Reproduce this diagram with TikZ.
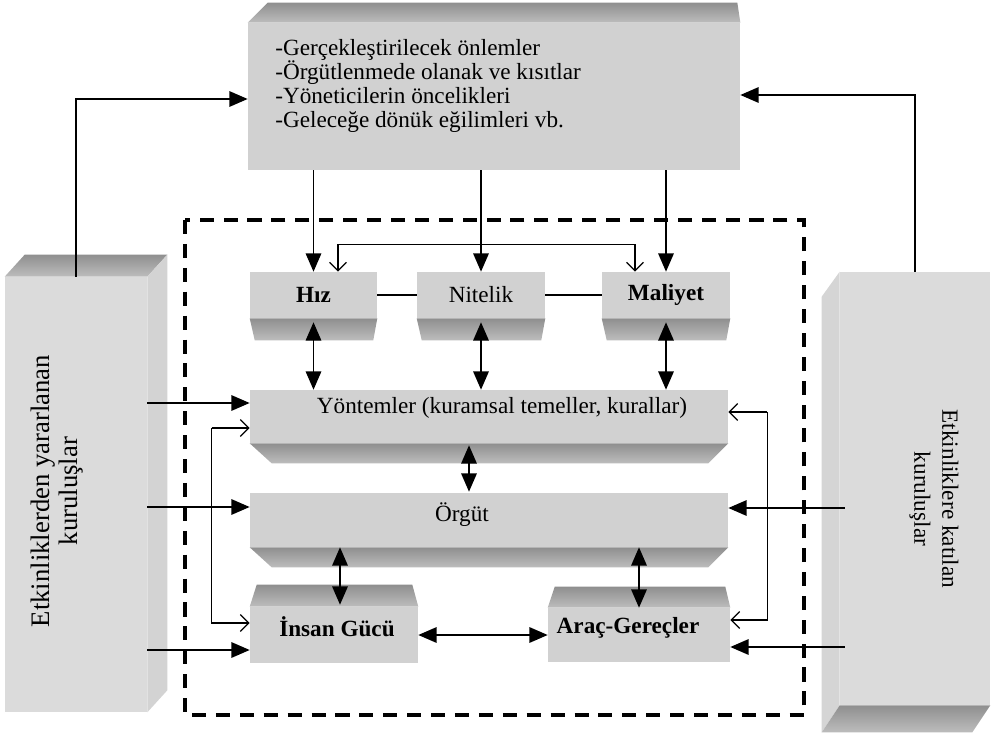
\documentclass[tikz,border=0pt]{standalone}
\usepackage{fontspec}
\setmainfont{Liberation Serif}
\usetikzlibrary{arrows.meta,calc}
\definecolor{FaceClr}{gray}{0.82}
\definecolor{SideClr}{gray}{0.86}
\definecolor{DarkClr}{gray}{0.56}
\definecolor{MidClr}{gray}{0.74}

\begin{document}
\begin{tikzpicture}[x=0.025cm,y=-0.025cm,
  face/.style={fill=FaceClr,inner sep=0pt,font=\fontsize{16.5}{17}\selectfont},
  bold/.style={font=\fontsize{16.5}{17}\selectfont\bfseries},
  bevel/.style={top color=DarkClr,bottom color=MidClr},
  arr/.style={line width=1.1pt,-{Triangle[length=13pt,width=11pt]}},
  dbl/.style={line width=1.1pt,{Triangle[length=13pt,width=11pt]}-{Triangle[length=13pt,width=11pt]}},
  opn/.style={line width=0.9pt,-{Straight Barb[length=6pt,width=12pt]}},
  opndbl/.style={line width=0.9pt,{Straight Barb[length=6pt,width=12pt]}-{Straight Barb[length=6pt,width=12pt]}},
  frame/.style={line width=2.2pt,dash pattern=on 10pt off 7pt}]
\useasboundingbox (0,0) rectangle (992,734);

% big boxes
\node[face,minimum width=12.3cm,minimum height=3.675cm] (top) at (494,96.5) {};
\node[face,fill=SideClr,minimum width=3.55cm,minimum height=10.875cm] (sol) at (76,494.5) {};
\node[face,fill=SideClr,minimum width=3.75cm,minimum height=10.825cm] (sag) at (915,488.5) {};

\shade[bevel] (top.north west) -- (top.north east) -- ++(-3,-20) -- ($(top.north west)+(20,-20)$) -- cycle;
\shade[bevel] (sol.north west) -- (sol.north east) -- ++(20,-22) -- ($(sol.north west)+(20,-22)$) -- cycle;
\fill[SideClr!96!black] (sol.north east) -- ++(20,-22) -- ($(sol.south east)+(20,-22)$) -- (sol.south east) -- cycle;
\fill[SideClr!97!black] (sag.north west) -- ++(-18,25) -- ($(sag.south west)+(-18,27)$) -- (sag.south west) -- cycle;
\shade[bevel] (sag.south west) -- (sag.south east) -- ++(-18,27) -- ($(sag.south west)+(-18,27)$) -- cycle;

\node[face,fill=none,anchor=west,align=left] (topText) at (275,86)
  {-Gerçekleştirilecek önlemler\\-Örgütlenmede olanak ve kısıtlar\\-Yöneticilerin öncelikleri\\-Geleceğe dönük eğilimleri vb.};
\node[rotate=90,align=center,font=\fontsize{19}{19.5}\selectfont] (solText) at (57,491)
  {Etkinliklerden yararlanan\\kuruluşlar};
\node[rotate=-90,align=center,font=\fontsize{16.5}{20}\selectfont] (sagText) at (934,499)
  {Etkinliklere katılan\\kuruluşlar};

% inner boxes
\node[face,bold,minimum width=3.175cm,minimum height=1.15cm] (hiz) at (313.5,295) {Hız};
\node[face,minimum width=3.2cm,minimum height=1.15cm] (nitelik) at (481,295) {Nitelik};
\node[face,bold,minimum width=3.2cm,minimum height=1.15cm] (maliyet) at (666,295) {Maliyet};
\foreach \b in {hiz,nitelik,maliyet}
  \shade[bevel] (\b.south west) -- (\b.south east) -- ++(-4,22) -- ($(\b.south west)+(5,22)$) -- cycle;

\node[face,minimum width=11.95cm,minimum height=1.325cm,
  label={[face,fill=none,xshift=0.325cm,yshift=0.21cm]center:Yöntemler (kuramsal temeller, kurallar)}] (yontem) at (489,416.5) {};
\node[face,minimum width=11.95cm,minimum height=1.35cm,
  label={[face,fill=none,xshift=-0.675cm,yshift=0.125cm]center:Örgüt}] (orgut) at (489,520) {};
\foreach \b in {yontem,orgut}
  \shade[bevel] (\b.south west) -- (\b.south east) -- ++(-20,20) -- ($(\b.south west)+(22,20)$) -- cycle;

\node[face,minimum width=4.2cm,minimum height=1.4cm,
  label={[face,bold,fill=none,xshift=0.075cm,yshift=0.2cm]center:İnsan Gücü}] (insan) at (334,635) {};
\node[face,minimum width=4.55cm,minimum height=1.35cm,
  label={[face,bold,fill=none,xshift=-0.275cm,yshift=0.175cm]center:Araç-Gereçler}] (arac) at (639,635) {};
\shade[bevel] (insan.north west) -- (insan.north east) -- ++(-6,-22) -- ($(insan.north west)+(7,-22)$) -- cycle;
\shade[bevel] (arac.north west) -- (arac.north east) -- ++(-5,-21) -- ($(arac.north west)+(7,-21)$) -- cycle;

\draw[frame] (185,220) rectangle (804,715);

% connectors
\draw[arr] (sol.north) |- ($(top.west)+(0,2.5)$);
\draw[arr] (sag.north) |- ($(top.east)+(0,-1.5)$);
\foreach \b in {hiz,nitelik,maliyet}{
  \draw[arr] (\b.north |- top.south) -- (\b.north);
  \draw[dbl] ($(\b.south)+(0,4)$) -- (\b.south |- yontem.north);
}
\draw[opndbl] ($(hiz.north)+(24.5,0)$) -- ++(0,-27) -| ($(maliyet.north)+(-31,0)$);
\draw[line width=0.9pt] (hiz.east) -- (nitelik.west);
\draw[line width=0.9pt] (nitelik.east) -- (maliyet.west);

\draw[dbl] ($(yontem.south)+(-20,2)$) -- ($(orgut.north)+(-20,-1)$);
\draw[dbl] ($(orgut.south -| insan.north)+(6,0)$) -- ($(insan.north)+(6,-2)$);
\draw[dbl] (orgut.south -| arac.north) -- (arac.north);
\draw[dbl] (insan.east) -- (arac.west);

\draw[arr] ($(yontem.west -| sol.east)+(0,-13.5)$) -- ($(yontem.west)+(0,-13.5)$);
\draw[arr] ($(orgut.west -| sol.east)+(0,-13)$) -- ($(orgut.west)+(0,-13)$);
\draw[arr] ($(insan.west -| sol.east)+(0,15)$) -- ($(insan.west)+(0,15)$);
\draw[arr] ($(orgut.east -| sag.west)+(5,-12)$) -- ($(orgut.east)+(0,-12)$);
\draw[arr] ($(arac.east -| sag.west)+(5,12)$) -- ($(arac.east)+(0,12)$);

\draw[opn] ($(yontem.west)+(-38,11.5)$) -- ($(yontem.west)+(0,11.5)$);
\draw[opn] ($(yontem.west)+(-38,11.5)$) |- ($(insan.west)+(0,-12)$);
\draw[opn] ($(yontem.east)+(39,-4.5)$) -- ($(yontem.east)+(0,-4.5)$);
\draw[opn] ($(yontem.east)+(39,-4.5)$) |- ($(arac.east)+(0,-15)$);
\end{tikzpicture}
\end{document}
